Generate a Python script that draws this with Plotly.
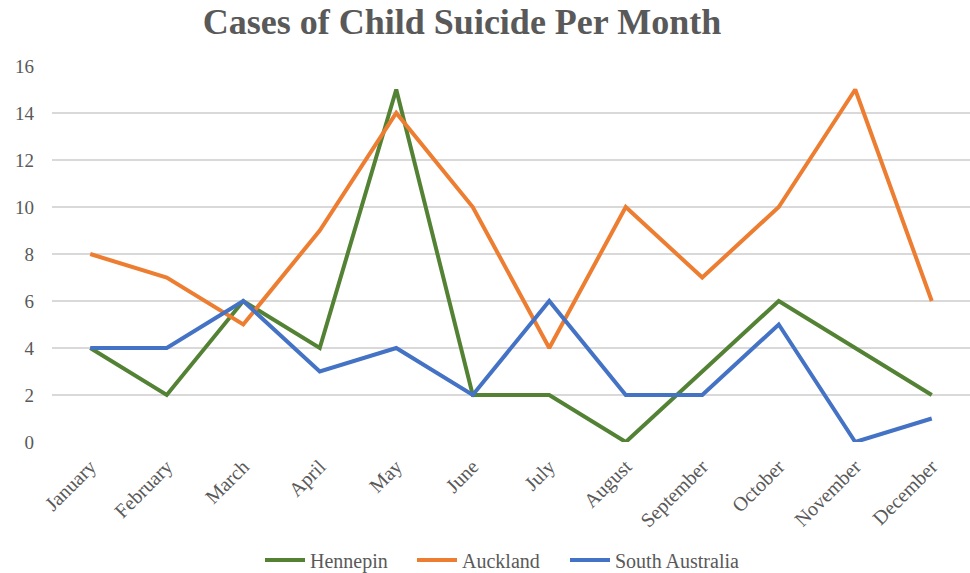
import plotly.graph_objects as go

months = ["January", "February", "March", "April", "May", "June",
          "July", "August", "September", "October", "November", "December"]
hennepin = [4, 2, 6, 4, 15, 2, 2, 0, 3, 6, 4, 2]
auckland = [8, 7, 5, 9, 14, 10, 4, 10, 7, 10, 15, 6]
south_australia = [4, 4, 6, 3, 4, 2, 6, 2, 2, 5, 0, 1]

series = [
    ("Hennepin", hennepin, "#548235"),
    ("Auckland", auckland, "#ED7D31"),
    ("South Australia", south_australia, "#4472C4"),
]

serif = "Liberation Serif, Times New Roman, serif"
text_grey = "#595959"

# one legend box per series so the entries sit at fixed horizontal positions
legend_left_px = [260, 412, 565]
legend_ids = ["legend", "legend2", "legend3"]

fig = go.Figure()
for (name, values, color), lid in zip(series, legend_ids):
    fig.add_trace(go.Scatter(
        x=months, y=values, name=name, mode="lines",
        line=dict(color=color, width=4), legend=lid,
    ))

legend_style = dict(
    orientation="h", xref="container", xanchor="left",
    y=1 - 560 / 573, yref="container", yanchor="middle",
    font=dict(family=serif, size=20, color=text_grey),
    itemwidth=40, bgcolor="rgba(0,0,0,0)",
)

fig.update_layout(
    width=970, height=573,
    margin=dict(l=52, r=0, t=66, b=131),
    paper_bgcolor="white", plot_bgcolor="white",
    font=dict(family=serif, color=text_grey),
    title=dict(
        text="<b>Cases of Child Suicide Per Month</b>",
        font=dict(family=serif, size=36, color=text_grey),
        x=462 / 970, xref="container", xanchor="center",
        y=1 - 21 / 573, yref="container", yanchor="middle",
    ),
    showlegend=True,
)
for lid, left in zip(legend_ids, legend_left_px):
    fig.update_layout({lid: dict(legend_style, x=left / 970)})

fig.update_xaxes(
    type="category", range=[-0.5, 11.5], tickangle=-45,
    tickfont=dict(family=serif, size=20, color=text_grey),
    showgrid=False, showline=False, zeroline=False, ticks="",
    ticklabelstandoff=8, fixedrange=True,
)
fig.update_yaxes(
    range=[0, 16], dtick=2, tick0=0,
    tickfont=dict(family=serif, size=19, color=text_grey),
    showgrid=True, gridcolor="#D9D9D9", gridwidth=1.5,
    zeroline=False, showline=False, ticks="", ticklabelstandoff=17,
    fixedrange=True,
)

fig.write_html("out.html")
